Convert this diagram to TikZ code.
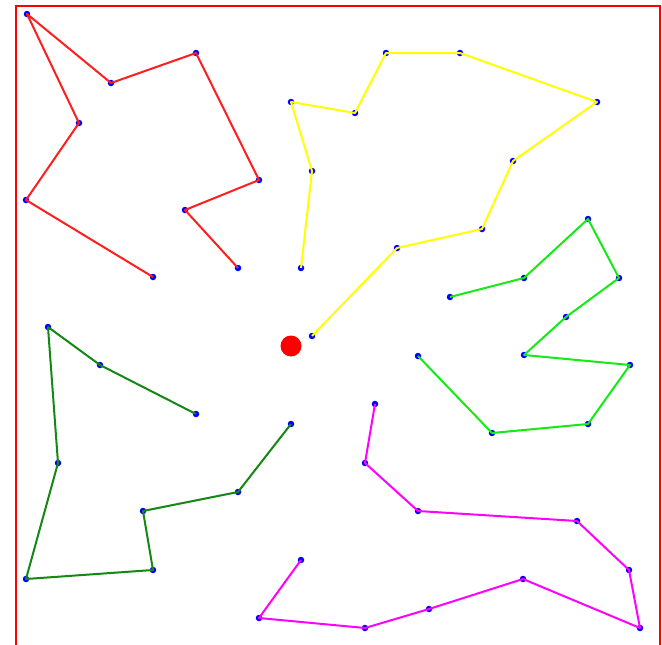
\documentclass[tikz,border=0pt]{standalone}
\usepackage{xcolor}
\usetikzlibrary{positioning}

\definecolor{routered}{RGB}{255,30,30}
\definecolor{routeyellow}{RGB}{255,255,0}
\definecolor{routelime}{RGB}{20,235,20}
\definecolor{routeforest}{RGB}{20,135,20}
\definecolor{routemagenta}{RGB}{255,0,255}

\begin{document}
\begin{tikzpicture}[
  x=1pt, y=-1pt,
  stop/.style={
    circle, fill=blue, draw=none, inner sep=0pt, minimum size=6.5pt
  },
  depotdot/.style={
    circle, fill=red, draw=none, inner sep=0pt, minimum size=21pt
  },
  route/.style={line width=2pt, line join=round},
  frame/.style={red, line width=1.5pt},
]
\useasboundingbox (0,0) rectangle (662,645);

%% ── Frame ────────────────────────────────────────────────────────────────────
\draw[frame] (16,645) -- (16,6) -- (660,6) -- (660,645);

%% ── Depot ────────────────────────────────────────────────────────────────────
\node[depotdot] (depot) at (291,346) {};

%% ── Stops ────────────────────────────────────────────────────────────────────
\foreach \x/\y [count=\i] in {153/277, 26/200, 79/123, 27/14, 111/83,
                              196/53, 259/180, 185/210, 238/268}
  \node[stop] (r\i) at (\x,\y) {};

\foreach \x/\y [count=\i] in {301/268, 312/171, 291/102, 355/113, 386/53,
                              460/53, 597/102, 513/161, 482/229, 397/248, 312/336}
  \node[stop] (y\i) at (\x,\y) {};

\foreach \x/\y [count=\i] in {450/297, 524/278, 588/219, 619/278, 566/317,
                              524/355, 630/365, 588/424, 492/433, 418/356}
  \node[stop] (l\i) at (\x,\y) {};

\foreach \x/\y [count=\i] in {196/414, 100/365, 48/327, 58/463, 26/579,
                              153/570, 143/511, 238/492, 291/424}
  \node[stop] (f\i) at (\x,\y) {};

\foreach \x/\y [count=\i] in {375/404, 365/463, 418/511, 577/521, 629/570,
                              640/628, 523/579, 429/609, 365/628, 259/618, 301/560}
  \node[stop] (m\i) at (\x,\y) {};

%% ── Routes ───────────────────────────────────────────────────────────────────
\draw[route, routered] (r1.center)
  \foreach \i in {2,...,9} { -- (r\i.center) };
\draw[route, routeyellow] (y1.center)
  \foreach \i in {2,...,11} { -- (y\i.center) };
\draw[route, routelime] (l1.center)
  \foreach \i in {2,...,10} { -- (l\i.center) };
\draw[route, routeforest] (f1.center)
  \foreach \i in {2,...,9} { -- (f\i.center) };
\draw[route, routemagenta] (m1.center)
  \foreach \i in {2,...,11} { -- (m\i.center) };

\end{tikzpicture}
\end{document}
